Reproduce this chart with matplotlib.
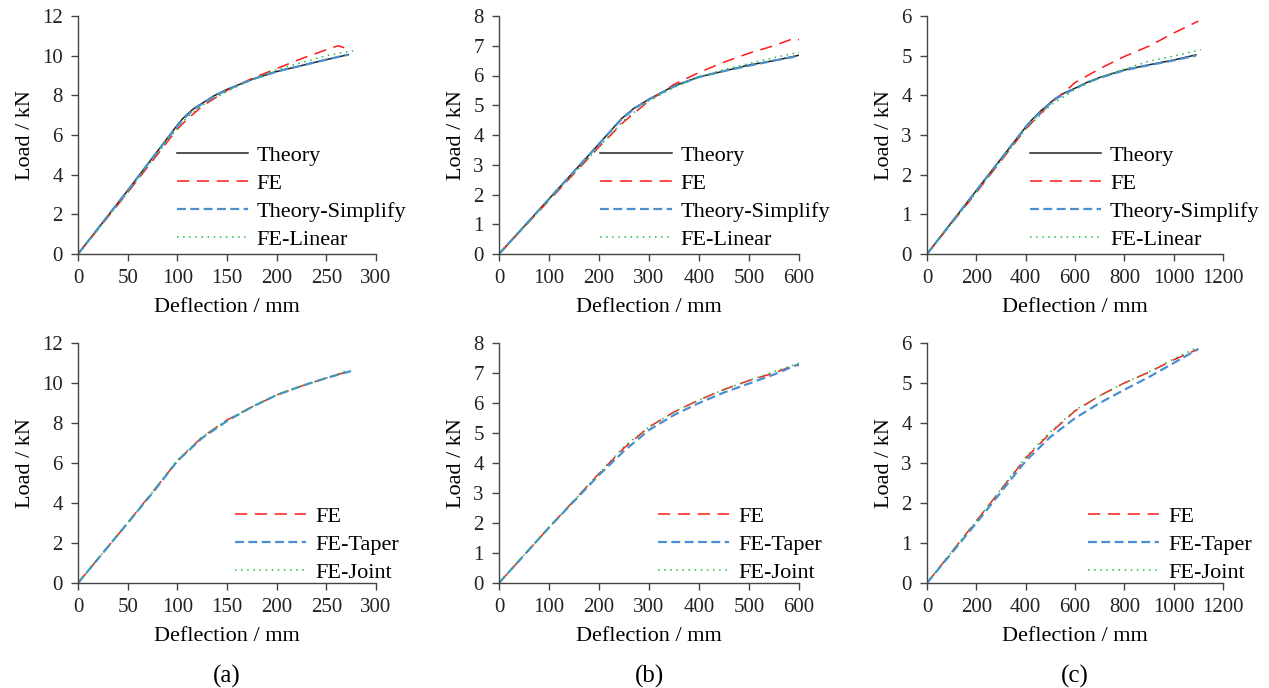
import numpy as np
import matplotlib.pyplot as plt

plt.rcParams['font.family'] = ['Liberation Serif', 'DejaVu Serif']
plt.rcParams['font.size'] = 16

# ---- top row (a): theory vs FE ----
a_x = [0, 25, 50, 75, 100, 105, 110, 117, 125, 137, 150, 175, 200, 225, 250, 272]
a_theory = [0, 1.6, 3.2, 4.85, 6.5, 6.8, 7.05, 7.35, 7.6, 7.98, 8.3, 8.8, 9.2, 9.5, 9.8, 10.05]
a_simpl = [0, 1.6, 3.2, 4.85, 6.45, 6.75, 7.0, 7.3, 7.57, 7.95, 8.28, 8.8, 9.2, 9.5, 9.8, 10.05]
a_fe_x = [0, 25, 50, 75, 100, 110, 125, 150, 175, 200, 225, 250, 262, 268]
a_fe = [0, 1.55, 3.1, 4.7, 6.3, 6.8, 7.45, 8.25, 8.85, 9.35, 9.85, 10.3, 10.5, 10.4]
a_lin_x = [0, 25, 50, 75, 100, 110, 125, 150, 175, 200, 225, 250, 277]
a_lin = [0, 1.55, 3.1, 4.75, 6.35, 6.9, 7.5, 8.2, 8.8, 9.3, 9.65, 10.0, 10.25]

# ---- top row (b) ----
b_x = [0, 100, 200, 245, 270, 300, 350, 400, 450, 500, 550, 600]
b_theory = [0, 1.85, 3.7, 4.55, 4.9, 5.2, 5.65, 5.95, 6.15, 6.35, 6.5, 6.68]
b_simpl = [0, 1.85, 3.7, 4.53, 4.88, 5.2, 5.63, 5.95, 6.15, 6.33, 6.5, 6.66]
b_fe_x = [0, 100, 200, 250, 300, 350, 400, 450, 500, 550, 590, 600]
b_fe = [0, 1.8, 3.6, 4.45, 5.15, 5.7, 6.1, 6.45, 6.75, 7.0, 7.25, 7.2]
b_lin_x = [0, 100, 200, 250, 300, 350, 400, 450, 500, 550, 605]
b_lin = [0, 1.82, 3.6, 4.5, 5.15, 5.6, 5.95, 6.2, 6.4, 6.6, 6.8]

# ---- top row (c) ----
c_x = [0, 200, 400, 420, 460, 520, 560, 600, 650, 700, 800, 900, 1000, 1090]
c_theory = [0, 1.6, 3.2, 3.35, 3.6, 3.92, 4.07, 4.18, 4.33, 4.45, 4.64, 4.77, 4.89, 5.02]
c_simpl = [0, 1.6, 3.2, 3.33, 3.58, 3.9, 4.05, 4.17, 4.32, 4.44, 4.63, 4.76, 4.88, 5.0]
c_fe_x = [0, 200, 400, 500, 560, 600, 700, 800, 900, 1000, 1100]
c_fe = [0, 1.55, 3.15, 3.8, 4.1, 4.32, 4.67, 4.98, 5.24, 5.57, 5.87]
c_lin_x = [0, 200, 400, 500, 600, 700, 800, 900, 1000, 1110]
c_lin = [0, 1.55, 3.15, 3.75, 4.15, 4.45, 4.66, 4.86, 4.99, 5.15]

# ---- bottom row (a): FE variants ----
d_x = [0, 25, 50, 75, 100, 125, 150, 175, 200, 225, 250, 270]
d_fe = [0, 1.5, 3.0, 4.55, 6.1, 7.3, 8.15, 8.8, 9.4, 9.85, 10.25, 10.55]
d_taper_x = [0, 25, 50, 75, 100, 125, 150, 175, 200, 225, 250, 275]
d_taper = [0, 1.5, 3.0, 4.5, 6.1, 7.25, 8.1, 8.8, 9.4, 9.85, 10.25, 10.6]
d_joint = [0, 1.5, 3.0, 4.55, 6.15, 7.3, 8.15, 8.8, 9.4, 9.85, 10.25, 10.6]

# ---- bottom row (b) ----
e_x = [0, 100, 200, 250, 300, 350, 400, 450, 500, 550, 590, 600]
e_fe = [0, 1.85, 3.65, 4.5, 5.2, 5.7, 6.1, 6.45, 6.75, 7.0, 7.25, 7.25]
e_taper_x = [0, 100, 200, 250, 300, 350, 400, 450, 500, 550, 600]
e_taper = [0, 1.85, 3.6, 4.4, 5.1, 5.6, 6.0, 6.35, 6.65, 6.95, 7.3]
e_joint_x = [0, 100, 200, 250, 300, 350, 400, 450, 500, 550, 605]
e_joint = [0, 1.85, 3.65, 4.55, 5.2, 5.7, 6.1, 6.45, 6.75, 7.05, 7.35]

# ---- bottom row (c) ----
f_x = [0, 200, 400, 500, 600, 700, 800, 900, 1000, 1100]
f_fe = [0, 1.55, 3.12, 3.75, 4.3, 4.68, 5.0, 5.27, 5.58, 5.85]
f_taper = [0, 1.5, 3.05, 3.65, 4.12, 4.5, 4.83, 5.15, 5.5, 5.85]
f_joint = [0, 1.55, 3.15, 3.78, 4.32, 4.68, 5.0, 5.28, 5.6, 5.9]

x_ticks = [np.arange(0, 301, 50), np.arange(0, 601, 100), np.arange(0, 1201, 200)]
y_ticks = [np.arange(0, 13, 2), np.arange(0, 9, 1), np.arange(0, 7, 1)]
panel_labels = ['(a)', '(b)', '(c)']

RED = '#ff1a1a'
BLUE = '#4a90d0'
GREEN = '#22bb44'
AXC = '#444444'

fig = plt.figure(figsize=(12.69, 6.88), dpi=100)

lefts = [78, 499, 927]
widths = [298, 300, 296]
axs_top, axs_bot = [], []
for l, w in zip(lefts, widths):
    axs_top.append(fig.add_axes([l / 1269, (688 - 254) / 688, w / 1269, 238 / 688]))
    axs_bot.append(fig.add_axes([l / 1269, (688 - 583) / 688, w / 1269, 240 / 688]))

def style(ax, xt, yt):
    ax.set_xlim(xt[0], xt[-1])
    ax.set_ylim(yt[0], yt[-1])
    ax.set_xticks(xt)
    ax.set_yticks(yt)
    for s in ['top', 'right']:
        ax.spines[s].set_visible(False)
    for s in ['left', 'bottom']:
        ax.spines[s].set_color(AXC)
        ax.spines[s].set_linewidth(1.0)
    ax.tick_params(direction='out', length=5, width=1.0, color=AXC,
                   labelcolor='#222222', labelsize=15, pad=6)
    ax.set_xlabel('Deflection / mm', labelpad=7)
    ax.set_ylabel('Load / kN', labelpad=5)

leg_kw = dict(loc='upper left', frameon=False, handlelength=3.2, handletextpad=0.4,
              labelspacing=0.33, borderpad=0, borderaxespad=0)

top_data = [
    (a_x, a_theory, a_simpl, a_fe_x, a_fe, a_lin_x, a_lin),
    (b_x, b_theory, b_simpl, b_fe_x, b_fe, b_lin_x, b_lin),
    (c_x, c_theory, c_simpl, c_fe_x, c_fe, c_lin_x, c_lin),
]
top_leg_x = [0.331, 0.338, 0.348]
for ax, (x, th, si, fx, fe, lx, li), xt, yt, lgx in zip(axs_top, top_data, x_ticks, y_ticks, top_leg_x):
    ax.plot(x, th, color='#222222', lw=1.1, label='Theory')
    ax.plot(fx, fe, color=RED, lw=1.1, dashes=(8, 5), label='FE')
    ax.plot(x, si, color=BLUE, lw=1.6, dashes=(4, 2), label='Theory-Simplify')
    ax.plot(lx, li, color=GREEN, lw=1.1, dashes=(1, 3), label='FE-Linear')
    style(ax, xt, yt)
    ax.legend(bbox_to_anchor=(lgx, 0.455), **leg_kw)

bot_data = [
    (d_x, d_fe, d_taper_x, d_taper, d_x, d_joint),
    (e_x, e_fe, e_taper_x, e_taper, e_joint_x, e_joint),
    (f_x, f_fe, f_x, f_taper, f_x, f_joint),
]
bot_leg_x = [0.527, 0.53, 0.544]
for ax, (fx, fe, tx, ta, jx, jo), xt, yt, pl, l, w, lgx in zip(axs_bot, bot_data, x_ticks, y_ticks,
                                                            panel_labels, lefts, widths, bot_leg_x):
    ax.plot(fx, fe, color=RED, lw=1.1, dashes=(8, 5), label='FE')
    ax.plot(tx, ta, color=BLUE, lw=1.6, dashes=(4, 2), label='FE-Taper')
    ax.plot(jx, jo, color=GREEN, lw=1.1, dashes=(1, 3), label='FE-Joint')
    style(ax, xt, yt)
    ax.legend(bbox_to_anchor=(lgx, 0.318), **leg_kw)
    fig.text((l + w / 2) / 1269, 1 - 676 / 688, pl, ha='center', va='center', fontsize=18)

fig.savefig('out.png', dpi=100)
